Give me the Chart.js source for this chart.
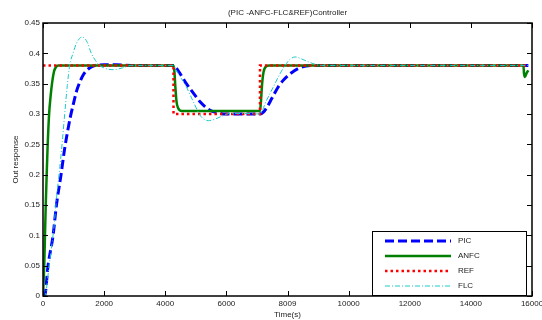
<!DOCTYPE html>
<html>
<head>
<meta charset="utf-8">
<script src="https://cdn.jsdelivr.net/npm/chart.js@4.4.1/dist/chart.umd.min.js"></script>
<style>
  html, body { margin: 0; padding: 0; background: #fff; }
  #wrap { width: 542px; height: 320px; }
</style>
</head>
<body>
<div id="wrap"><canvas id="respChart" width="542" height="320"></canvas></div>
<script>
// values (time in s, output response)
const picT = [0, 55, 165, 330, 440, 590, 700, 800, 895, 1000, 1100, 1200, 1310, 1500, 1700, 2000, 2400, 3000, 4270, 4320, 4480, 4650, 4865, 5000, 5140, 5300, 5470, 5700, 6000, 7100, 7210, 7350, 7480, 7700, 7850, 8030, 8350, 8600, 8800, 12000, 15880];
const picY = [0, 0, 0.05, 0.1, 0.15, 0.2, 0.24, 0.27, 0.295, 0.318, 0.338, 0.352, 0.364, 0.375, 0.38, 0.381, 0.381, 0.38, 0.38, 0.378, 0.367, 0.353, 0.338, 0.329, 0.32, 0.312, 0.306, 0.302, 0.3, 0.3, 0.303, 0.313, 0.325, 0.345, 0.355, 0.364, 0.375, 0.379, 0.38, 0.38, 0.38];

const anfcT = [0, 40, 65, 90, 120, 150, 200, 250, 300, 360, 420, 500, 600, 4270, 4300, 4330, 4370, 4420, 4540, 7100, 7130, 7170, 7220, 7320, 7400, 15720, 15740, 15770, 15820, 15880];
const anfcY = [0, 0.05, 0.1, 0.15, 0.2, 0.245, 0.3, 0.33, 0.352, 0.37, 0.377, 0.38, 0.38, 0.38, 0.37, 0.345, 0.32, 0.31, 0.305, 0.305, 0.32, 0.35, 0.37, 0.379, 0.38, 0.38, 0.366, 0.361, 0.367, 0.372];

const refT = [0, 4270, 4270, 7100, 7100, 15880];
const refY = [0.38, 0.38, 0.3, 0.3, 0.38, 0.38];

const flcT = [0, 60, 200, 350, 450, 545, 633, 710, 795, 873, 982, 1100, 1287, 1450, 1580, 1720, 1855, 2050, 2300, 2600, 2900, 3500, 4270, 4330, 4480, 4650, 4800, 4920, 5140, 5280, 5410, 5600, 5790, 6120, 6500, 7100, 7160, 7265, 7420, 7590, 7750, 7920, 8080, 8250, 8450, 8680, 8900, 9120, 12000, 15880];
const flcY = [0, 0, 0.05, 0.11, 0.165, 0.21, 0.255, 0.3, 0.347, 0.38, 0.4, 0.417, 0.427, 0.418, 0.4, 0.388, 0.38, 0.375, 0.373, 0.376, 0.38, 0.38, 0.38, 0.375, 0.362, 0.349, 0.333, 0.32, 0.298, 0.291, 0.289, 0.291, 0.295, 0.301, 0.301, 0.3, 0.303, 0.317, 0.333, 0.35, 0.366, 0.38, 0.39, 0.394, 0.391, 0.386, 0.382, 0.38, 0.38, 0.38];

const xTickVals = [0, 2000, 4000, 6000, 8000, 10000, 12000, 14000, 16000];
const xTickLabels = ['0', '2000', '4000', '6000', '8009', '10000', '12000', '14000', '16000'];
const yTickVals = [0, 0.05, 0.1, 0.15, 0.2, 0.25, 0.3, 0.35, 0.4, 0.45];
const yTickLabels = ['0', '0.05', '0.1', '0.15', '0.2', '0.25', '0.3', '0.35', '0.4', '0.45'];

const seriesNames = ['PIC', 'ANFC', 'REF', 'FLC'];

const FONT = 'Liberation Sans, Arial, sans-serif';
const TXT = '#222';

function pts(t, y) {
    return t.map((v, i) => ({ x: v, y: y[i] }));
}

const styles = {
    PIC:  { color: '#0000ff', width: 3,   dash: [9, 4] },
    ANFC: { color: '#008000', width: 2.5, dash: [] },
    REF:  { color: '#ff0000', width: 2.5, dash: [2.5, 3] },
    FLC:  { color: '#1ec8c8', width: 1,   dash: [5, 2, 1, 2] }
};

// box, inward ticks, title and legend like the matlab figure
const frame = {
    id: 'frame',
    afterDatasetsDraw(chart) {
        const { ctx, chartArea: a, scales } = chart;
        const xs = scales.x, ys = scales.y;
        ctx.save();
        ctx.strokeStyle = '#000';
        ctx.lineWidth = 1.5;
        ctx.strokeRect(a.left, a.top, a.right - a.left, a.bottom - a.top);

        ctx.lineWidth = 1;
        ctx.beginPath();
        const tl = 5;
        xTickVals.forEach(v => {
            const px = Math.round(xs.getPixelForValue(v)) + 0.5;
            ctx.moveTo(px, a.bottom); ctx.lineTo(px, a.bottom - tl);
            ctx.moveTo(px, a.top); ctx.lineTo(px, a.top + tl);
        });
        yTickVals.forEach(v => {
            const py = Math.round(ys.getPixelForValue(v)) + 0.5;
            ctx.moveTo(a.left, py); ctx.lineTo(a.left + tl, py);
            ctx.moveTo(a.right, py); ctx.lineTo(a.right - tl, py);
        });
        ctx.stroke();

        // title
        ctx.fillStyle = TXT;
        ctx.font = '8px ' + FONT;
        ctx.textAlign = 'center';
        ctx.textBaseline = 'middle';
        ctx.fillText('(PIC -ANFC-FLC&REF)Controller', (a.left + a.right) / 2, 13);

        // legend
        const bx = a.right - 160, by = a.bottom - 65, bw = 154, bh = 64;
        ctx.fillStyle = '#fff';
        ctx.fillRect(bx, by, bw, bh);
        ctx.strokeStyle = '#000';
        ctx.lineWidth = 1;
        ctx.strokeRect(bx + 0.5, by + 0.5, bw, bh);
        seriesNames.forEach((n, i) => {
            const s = styles[n];
            const yy = by + 10 + i * 15;
            ctx.beginPath();
            ctx.strokeStyle = s.color;
            ctx.lineWidth = s.width;
            ctx.setLineDash(s.dash);
            ctx.moveTo(bx + 13, yy);
            ctx.lineTo(bx + 79, yy);
            ctx.stroke();
            ctx.setLineDash([]);
            ctx.fillStyle = TXT;
            ctx.textAlign = 'left';
            ctx.fillText(n, bx + 86, yy);
        });
        ctx.restore();
    }
};

const data = { PIC: pts(picT, picY), ANFC: pts(anfcT, anfcY), REF: pts(refT, refY), FLC: pts(flcT, flcY) };
// matlab plot order: later series on top
const drawOrder = { PIC: 4, ANFC: 3, REF: 2, FLC: 1 };

new Chart(document.getElementById('respChart'), {
    type: 'line',
    data: {
        datasets: seriesNames.map(n => ({
            label: n,
            data: data[n],
            borderColor: styles[n].color,
            borderWidth: styles[n].width,
            borderDash: styles[n].dash,
            pointRadius: 0,
            fill: false,
            order: drawOrder[n],
            tension: n === 'REF' ? 0 : 0.4,
            cubicInterpolationMode: n === 'REF' ? 'default' : 'monotone'
        }))
    },
    options: {
        responsive: false,
        animation: false,
        layout: { padding: { top: 23, right: 10, left: 0, bottom: 0 } },
        plugins: {
            legend: { display: false },
            tooltip: { enabled: false }
        },
        scales: {
            x: {
                type: 'linear',
                min: 0,
                max: 16000,
                grid: { display: false, drawTicks: false },
                border: { display: false },
                afterBuildTicks: s => { s.ticks = xTickVals.map(v => ({ value: v })); },
                afterFit: s => { s.height = 24; s.paddingLeft = 0; s.paddingRight = 0; },
                ticks: {
                    autoSkip: false,
                    maxRotation: 0,
                    padding: 3,
                    color: TXT,
                    font: { family: FONT, size: 8 },
                    callback: (v, i) => xTickLabels[i]
                },
                title: {
                    display: true,
                    text: 'Time(s)',
                    color: TXT,
                    font: { family: FONT, size: 8 },
                    padding: { top: 0, bottom: 0 }
                }
            },
            y: {
                min: 0,
                max: 0.45,
                grid: { display: false, drawTicks: false },
                border: { display: false },
                afterBuildTicks: s => { s.ticks = yTickVals.map(v => ({ value: v })); },
                afterFit: s => { s.width = 43; },
                ticks: {
                    autoSkip: false,
                    padding: 3,
                    color: TXT,
                    font: { family: FONT, size: 8 },
                    callback: (v, i) => yTickLabels[i]
                },
                title: {
                    display: true,
                    text: 'Out response',
                    color: TXT,
                    font: { family: FONT, size: 8 },
                    padding: { top: 11, bottom: 0 }
                }
            }
        }
    },
    plugins: [frame]
});
</script>
</body>
</html>
